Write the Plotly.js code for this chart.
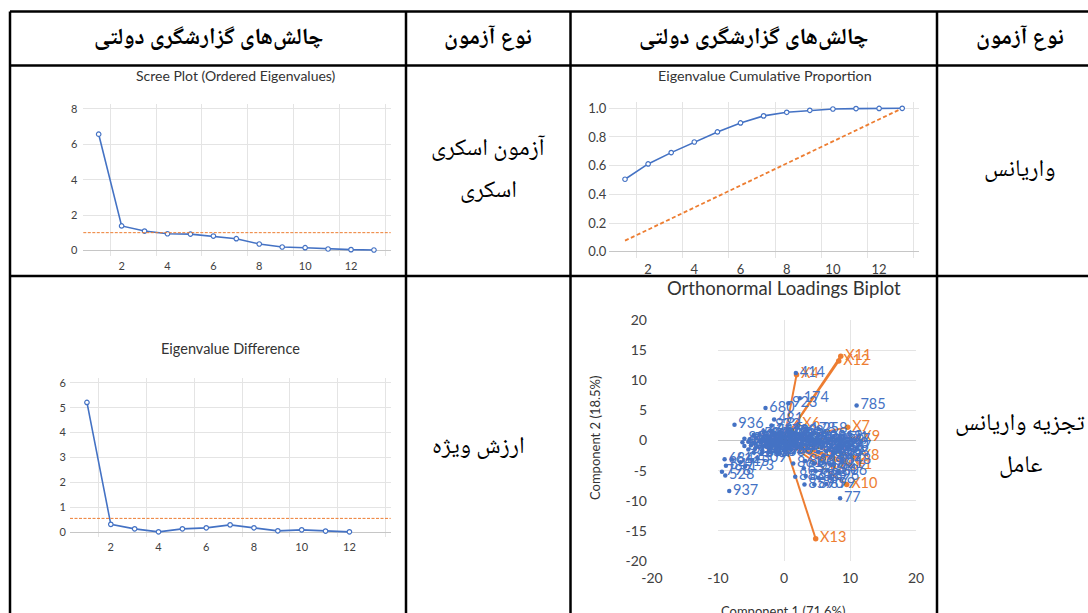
<!DOCTYPE html>
<html><head><meta charset="utf-8">
<script src="https://cdn.plot.ly/plotly-3.0.1.min.js"></script>
<style>html,body{margin:0;padding:0;background:#fff;overflow:hidden}#chart{width:1088px;height:613px}</style>
</head><body><div id="chart"></div>
<script>
// ---------------- data ----------------
const headerLabels = ["چالش‌های گزارشگری دولتی", "نوع آزمون"];
const testTypeRow1 = ["آزمون اسکری", "اسکری", "واریانس"];
const testTypeRow2 = ["ارزش ویژه", "تجزیه واریانس", "عامل"];

const chartTitles = ["Scree Plot (Ordered Eigenvalues)", "Eigenvalue Cumulative Proportion", "Eigenvalue Difference", "Orthonormal Loadings Biplot"];
const biplotAxisTitles = ["Component 1 (71.6%)", "Component 2 (18.5%)"];

const components = [1,2,3,4,5,6,7,8,9,10,11,12,13];
const componentTicks = [2,4,6,8,10,12];
const componentBoundaries = [1.5,3.5,5.5,7.5,9.5,11.5,13.5];

const eigenvalues = [6.57,1.38,1.09,0.94,0.92,0.81,0.66,0.36,0.19,0.15,0.075,0.04,0.02];
const screeThreshold = 1.0;
const screeTicks = [0,2,4,6,8];

const cumulativeProportion = [0.505,0.612,0.691,0.765,0.835,0.898,0.947,0.972,0.986,0.995,0.998,0.999,1.0];
const equalShareLine = [0.077,0.154,0.231,0.308,0.385,0.462,0.538,0.615,0.692,0.769,0.846,0.923,1.0];
const cumulativeTicks = [0,0.2,0.4,0.6,0.8,1.0];

const diffComponents = [1,2,3,4,5,6,7,8,9,10,11,12];
const eigenDifference = [5.21,0.31,0.13,0.01,0.13,0.17,0.29,0.17,0.05,0.09,0.04,0.01];
const diffThreshold = 0.55;
const diffTicks = [0,1,2,3,4,5,6];

const biplotXTicks = [-20,-10,0,10,20];
const biplotXTickText = ["-20","-10","0","10","20"];
const biplotYTicks = [-20,-15,-10,-5,0,5,10,15,20];
const biplotYTickText = ["-20","-15","-10","-5","0","5","10","15","20"];

const loadingNames = ["X1","X2","X3","X4","X5","X6","X7","X8","X9","X10","X11","X12","X13"];
const loadingX = [10.0, 9.2, 6.0, 1.9, 7.5, 2.1, 9.65, 11.1, 11.2, 9.5, 8.6, 8.3, 4.8];
const loadingY = [-4.1, -3.3, -3.0, 10.9, -4.4, 2.7, 2.2, -2.7, 0.5, -7.3, 14.0, 13.2, -16.3];

// observation scores (component 1, component 2) and their ids
const obsX = [1.8,2.4,0.65,-2.8,11.0,-7.5,-1.5,-1.9,8.5,-8.3,-8.9,-9.4,-5.9,-9.0,-7.9,-8.8,-4.0,-6.6,3.4,5.2,
  -3.0,-1.8,-0.6,0.6,1.6,
  -4.6,-3.7,-2.6,-1.5,-0.4,0.7,1.7,2.6,
  -6.0,-5.2,-4.2,-3.1,-2.0,-0.9,0.2,1.2,2.2,3.0,
  -6.3,-5.4,-4.5,-3.5,-2.4,-1.3,-0.2,0.9,1.9,2.8,
  -6.0,-5.0,-4.0,-2.9,-1.8,-0.7,0.4,1.5,2.5,
  -5.4,-4.4,-3.3,-2.2,-1.1,0.0,1.1,
  -4.6,-3.4,-2.3,-1.2,
  5.0,6.3,7.5,8.4,
  4.2,5.4,6.6,7.8,8.7,
  4.8,6.0,7.2,8.4,
  4.5,5.7,6.9,8.1,8.8,
  5.2,6.4,7.6,8.5,
  6.0,7.4,
  1.4,1.7,3.1,3.2,4.6,6.0,7.6,8.8,3.0,4.8,6.6,8.2,3.3,5.2,7.0,4.6,6.4];
const obsY = [11.2,7.0,6.2,5.4,5.8,2.6,3.5,2.5,-9.6,-8.4,-5.8,-5.2,-4.3,-3.1,-3.1,-4.2,-3.0,-3.6,1.9,1.9,
  1.5,1.6,1.4,1.5,1.3,
  0.9,1.0,0.8,0.9,1.0,0.8,0.9,0.7,
  0.3,0.2,0.4,0.3,0.2,0.3,0.4,0.2,0.3,0.2,
  -0.3,-0.2,-0.4,-0.3,-0.2,-0.4,-0.3,-0.2,-0.3,-0.4,
  -0.9,-0.8,-1.0,-0.9,-0.8,-1.0,-0.9,-0.8,-1.0,
  -1.5,-1.4,-1.6,-1.5,-1.4,-1.6,-1.5,
  -2.0,-2.1,-1.9,-2.0,
  0.5,0.4,0.6,0.4,
  -0.1,0.0,-0.2,-0.1,0.0,
  -0.7,-0.6,-0.8,-0.7,
  -1.3,-1.2,-1.4,-1.3,-1.2,
  -1.9,-1.8,-2.0,-1.9,
  -2.5,-2.4,
  -3.8,-6.0,-7.3,-3.4,-3.8,-3.6,-3.9,-3.3,-4.6,-5.0,-4.9,-5.2,-5.9,-6.2,-6.0,-7.3,-7.2];
const obsId = [414,174,923,680,785,936,481,972,77,937,528,798,173,684,612,647,309,615,178,258,
  456,233,519,702,763,
  418,592,341,128,887,64,390,275,
  822,503,149,617,731,286,944,352,208,579,
  436,95,668,301,812,427,163,748,522,39,
  874,655,480,237,911,346,583,129,194,
  566,707,318,849,462,250,781,
  133,694,527,356,
  908,245,619,471,
  838,296,735,189,547,
  602,118,443,760,
  532,219,673,951,387,
  144,826,505,268,
  713,329,
  861,883,857,866,809,870,821,848,852,875,894,806,868,859,896,890,899];

// ---------------- styling / layout helpers ----------------
const W = 1088, H = 613;
const BLUE = '#4472C4', ORANGE = '#ED7D31', GRID = '#E4E4E4', AXIS = '#C6C6C6', TICK = '#404040';
const LATIN = 'Lato, "Open Sans", sans-serif';
const FA = '"Noto Naskh Arabic", "Noto Sans Arabic", "DejaVu Sans", sans-serif';
const dom = (a, b) => [a / W, b / W];
const vdom = (top, bottom) => [1 - bottom / H, 1 - top / H];
const fx = p => p / W, fy = p => 1 - p / H;

const lineStyle = {color: BLUE, width: 1.6};
const openMarker = {symbol: 'circle', size: 4.5, color: '#ffffff', line: {color: BLUE, width: 1.2}};

const loadLinesX = [], loadLinesY = [];
loadingX.forEach((v, i) => { loadLinesX.push(0, v, null); loadLinesY.push(0, loadingY[i], null); });

const traces = [
  {x: components, y: eigenvalues, xaxis: 'x', yaxis: 'y', mode: 'lines+markers', line: lineStyle, marker: openMarker},
  {x: components, y: equalShareLine, xaxis: 'x2', yaxis: 'y2', mode: 'lines', line: {color: ORANGE, width: 1.8, dash: '4px,2.5px'}},
  {x: components, y: cumulativeProportion, xaxis: 'x2', yaxis: 'y2', mode: 'lines+markers', line: lineStyle, marker: openMarker},
  {x: diffComponents, y: eigenDifference, xaxis: 'x3', yaxis: 'y3', mode: 'lines+markers', line: lineStyle, marker: openMarker},
  {x: loadLinesX, y: loadLinesY, xaxis: 'x4', yaxis: 'y4', mode: 'lines', line: {color: ORANGE, width: 2}},
  {x: loadingX, y: loadingY, text: loadingNames, xaxis: 'x4', yaxis: 'y4', mode: 'markers+text', textposition: 'middle right',
   textfont: {family: LATIN, size: 14.5, color: ORANGE}, marker: {size: 5.5, color: ORANGE}},
  {x: obsX, y: obsY, text: obsId.map(String), xaxis: 'x4', yaxis: 'y4', mode: 'markers+text', textposition: 'middle right',
   textfont: {family: LATIN, size: 14.5, color: BLUE}, marker: {size: 4.5, color: BLUE}},
  {x: [], y: [], xaxis: 'x5', yaxis: 'y5', mode: 'markers'}
];

function catAxis(domain, anchor, range, size) {
  return {domain, anchor, range, type: 'linear', tickmode: 'array', tickvals: componentTicks,
    showgrid: false, zeroline: false, showline: false, ticks: '', fixedrange: true, ticklabelstandoff: 2,
    tickfont: {family: LATIN, size, color: TICK},
    minor: {tickmode: 'array', tickvals: componentBoundaries, showgrid: true, gridcolor: GRID, gridwidth: 1, ticks: ''}};
}
function valAxis(domain, anchor, range, tickvals, size, extra) {
  return Object.assign({domain, anchor, range, type: 'linear', tickmode: 'array', tickvals,
    showgrid: true, gridcolor: GRID, gridwidth: 1, zeroline: true, zerolinecolor: AXIS, zerolinewidth: 1,
    showline: false, ticks: '', fixedrange: true, tickfont: {family: LATIN, size, color: TICK}}, extra || {});
}

const TOP = 11.5;
const tableLine = (x0, y0, x1, y1) => ({type: 'line', xref: 'paper', yref: 'paper', x0: fx(x0), y0: fy(y0), x1: fx(x1), y1: fy(y1),
  line: {color: '#000', width: 2.5}});
const shapes = [
  tableLine(10, TOP, 1088, TOP), tableLine(10, 65.5, 1088, 65.5), tableLine(10, 276, 1088, 276),
  tableLine(10, TOP, 10, 613), tableLine(406, TOP, 406, 613), tableLine(570.5, TOP, 570.5, 613), tableLine(937, TOP, 937, 613),
  {type: 'line', xref: 'x domain', yref: 'y', x0: 0, x1: 1, y0: screeThreshold, y1: screeThreshold, line: {color: ORANGE, width: 1, dash: '3px,1.5px'}},
  {type: 'line', xref: 'x3 domain', yref: 'y3', x0: 0, x1: 1, y0: diffThreshold, y1: diffThreshold, line: {color: ORANGE, width: 1, dash: '3px,1.5px'}}
];

const ann = (text, x, y, font, extra) => Object.assign({text, xref: 'paper', yref: 'paper', x: fx(x), y: fy(y),
  xanchor: 'center', yanchor: 'middle', showarrow: false, font}, extra || {});
const faBold = {family: FA, size: 23, color: '#000', weight: 'bold'};
const faReg = {family: FA, size: 24, color: '#000'};
const titleFont = s => ({family: LATIN, size: s, color: '#333'});

const annotations = [
  ann('<b>' + headerLabels[0] + '</b>', 208, 39, faBold),
  ann('<b>' + headerLabels[1] + '</b>', 488, 39, faBold),
  ann('<b>' + headerLabels[0] + '</b>', 753, 39, faBold),
  ann('<b>' + headerLabels[1] + '</b>', 1020, 39, faBold),
  ann(testTypeRow1[0], 488, 149, faReg),
  ann(testTypeRow1[1], 488, 192, faReg),
  ann(testTypeRow1[2], 1020, 170, faReg),
  ann(testTypeRow2[0], 478, 447, faReg),
  ann(testTypeRow2[1], 1020, 424, faReg),
  ann(testTypeRow2[2], 1020, 466, faReg),
  ann(chartTitles[0], 236, 75.5, titleFont(14)),
  ann(chartTitles[1], 764.5, 75.5, titleFont(14.3)),
  ann(chartTitles[2], 230, 348, titleFont(14.5)),
  ann(chartTitles[3], 784, 288, titleFont(18.5)),
  ann(biplotAxisTitles[0], 783, 611, titleFont(13)),
  ann(biplotAxisTitles[1], 595, 438, titleFont(13), {textangle: -90})
];

const layout = {
  width: W, height: H, margin: {l: 0, r: 0, t: 0, b: 0}, paper_bgcolor: '#fff', plot_bgcolor: 'rgba(0,0,0,0)',
  showlegend: false, hovermode: false,
  xaxis: catAxis(dom(83.3, 390.7), 'y', [0.33, 13.73], 11),
  yaxis: valAxis(vdom(104, 256), 'x', [-0.32, 8.28], screeTicks, 11, {ticklabelstandoff: 5}),
  xaxis2: catAxis(dom(609.3, 919.3), 'y2', [0.32, 13.74], 13),
  yaxis2: valAxis(vdom(101.7, 257.7), 'x2', [-0.042, 1.046], cumulativeTicks, 13, {tickformat: '.1f', ticklabelstandoff: 2}),
  xaxis3: catAxis(dom(70, 390.7), 'y3', [0.29, 13.73], 11),
  yaxis3: valAxis(vdom(378.3, 537.3), 'x3', [-0.21, 6.18], diffTicks, 11, {ticklabelstandoff: 3}),
  xaxis4: valAxis(dom(718, 916), 'y4', [-10, 20], [-10, 0, 10, 20], 13, {showticklabels: false, zeroline: false}),
  yaxis4: valAxis(vdom(320, 561), 'x4', [-20, 20], biplotYTicks, 13, {showticklabels: false}),
  xaxis5: valAxis(dom(652, 916), 'y5', [-20, 20], biplotXTicks, 14, {showgrid: false, zeroline: false, ticktext: biplotXTickText, ticklabelstandoff: 7}),
  yaxis5: valAxis(vdom(320, 561), 'x5', [-20, 20], biplotYTicks, 14, {showgrid: false, zeroline: false, ticktext: biplotYTickText, ticklabelstandoff: 4}),
  shapes, annotations
};

Plotly.newPlot('chart', traces, layout, {staticPlot: true, displayModeBar: false});
</script></body></html>
